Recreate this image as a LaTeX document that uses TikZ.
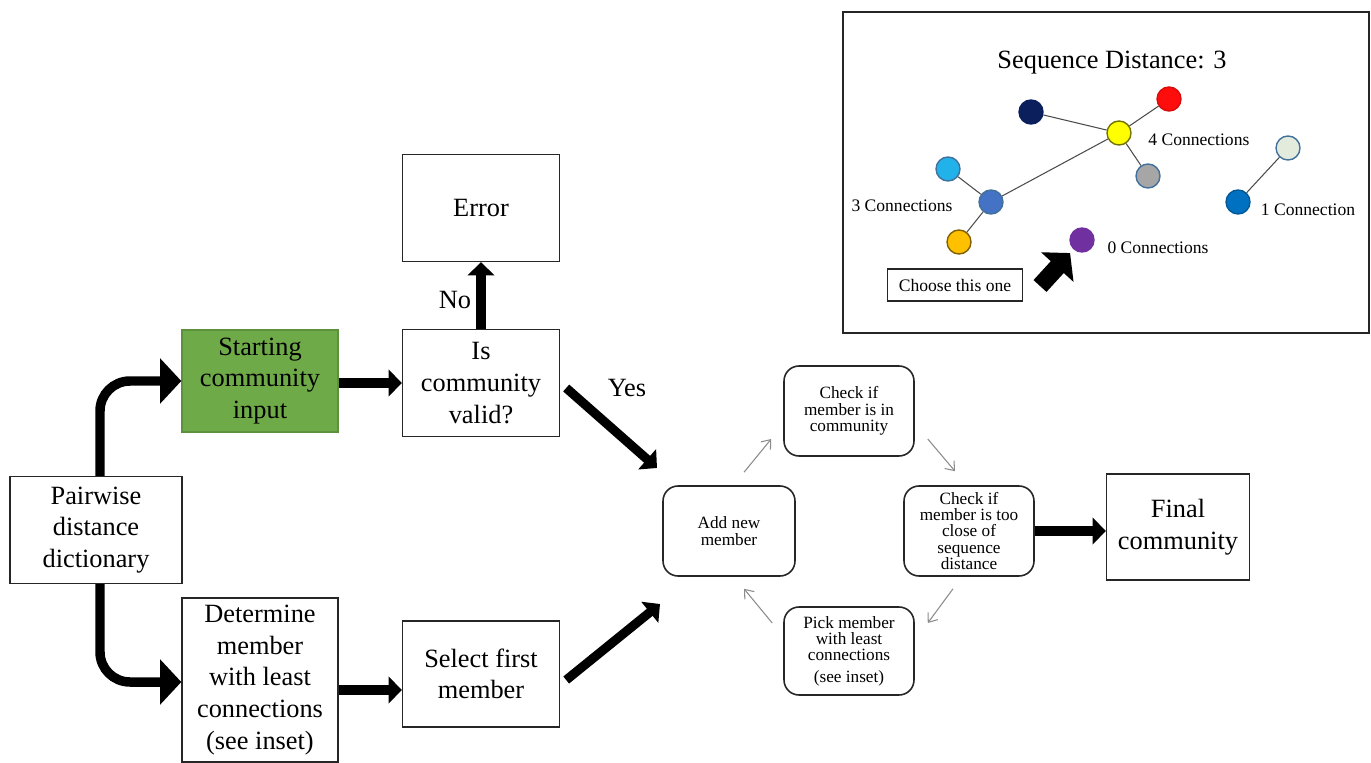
\documentclass[tikz,border=0pt]{standalone}
\usepackage{fontspec}
\setmainfont{Liberation Serif}
\usetikzlibrary{arrows.meta}
\definecolor{grn}{HTML}{6EAB48}
\definecolor{cnavy}{HTML}{0B1F5C}
\definecolor{cred}{HTML}{FF0D0D}
\definecolor{cyel}{HTML}{FFFF00}
\definecolor{cgray}{HTML}{A6A6A6}
\definecolor{ccyan}{HTML}{22B2EA}
\definecolor{cmid}{HTML}{4472C4}
\definecolor{corange}{HTML}{FFC000}
\definecolor{cpurple}{HTML}{7030A0}
\definecolor{cpale}{HTML}{E3EBDD}
\definecolor{cblue}{HTML}{0070C0}
\definecolor{rim}{HTML}{41719C}
\begin{document}
\begin{tikzpicture}[x=0.02cm,y=-0.02cm,
  box/.style={draw=black!85, line width=0.8pt, align=center, inner sep=0pt, font=\fontsize{15}{18}\selectfont},
  cyc/.style={draw=black!85, line width=0.9pt, rounded corners=0.3cm, align=center, inner sep=0pt, minimum width=2.6cm, minimum height=1.8cm, font=\fontsize{9.8}{9.3}\selectfont},
  bigarr/.style={line width=5.4pt, -{Triangle[length=12pt,width=25pt]}},
  smarr/.style={line width=5.2pt, -{Triangle[length=7.5pt,width=15pt]}},
  thinarr/.style={draw=black!45, line width=0.6pt, -{Straight Barb[length=4.5pt,width=7pt]}},
  lbl/.style={font=\fontsize{15}{18}\selectfont, inner sep=0pt},
  sl/.style={font=\fontsize{10}{12}\selectfont, inner sep=0pt},
  dot/.style={circle, minimum size=0.48cm, inner sep=0pt, line width=0.8pt},
  edge/.style={draw=black!70, line width=0.6pt}
]
\useasboundingbox[fill=white] (0,0) rectangle (1371,763);

% main flow boxes
\node[box, minimum width=3.44cm, minimum height=2.14cm] (pw) at (96,530) {Pairwise\\distance\\dictionary};
\node[box, fill=grn, draw=grn!85!black, minimum width=3.12cm, minimum height=2.04cm] (start) at (260,381) {Starting\\community\\input};
\node[box, minimum width=3.14cm, minimum height=2.14cm] (valid) at (481,383) {Is\\community\\valid?};
\node[box, minimum width=3.14cm, minimum height=2.14cm] (err) at (481,208) {Error};
\node[box, minimum width=3.12cm, minimum height=3.28cm] (det) at (260,680) {Determine\\member\\with least\\connections\\(see inset)};
\node[box, minimum width=3.14cm, minimum height=2.12cm] (sel) at (481,674) {Select first\\member};
\node[box, minimum width=2.86cm, minimum height=2.12cm] (fin) at (1178,527) {Final\\community};

% cycle
\node[cyc] (c1) at (849,411) {Check if\\member is in\\community};
\node[cyc, minimum width=2.64cm] (add) at (729,531) {Add new\\member};
\node[cyc] (c2) at (969,531) {Check if\\member is too\\close of\\sequence\\distance};
\node[cyc, minimum height=1.76cm] (pick) at (849,651) {Pick member\\with least\\connections\\[3pt](see inset)};

% thick arrows
\draw[bigarr, rounded corners=0.6cm] ([xshift=0.08cm]pw.north) |- (start.west);
\draw[bigarr, rounded corners=0.6cm] ([xshift=0.08cm]pw.south) |- ([yshift=-0.04cm]det.west);
\draw[smarr] ([yshift=-0.04cm]start.east) -- ([yshift=-0.04cm]start.east -| valid.west);
\draw[smarr] (valid.north) -- (err.south);
\draw[smarr] ([yshift=-0.2cm]det.east) -- ([yshift=-0.2cm]det.east -| sel.west);
\coordinate (yesend) at (657,468);
\coordinate (selend) at (660,604);
\draw[smarr] ([xshift=0.12cm,yshift=-0.1cm]valid.east) -- (yesend);
\draw[smarr] ([xshift=0.12cm,yshift=-0.12cm]sel.east) -- (selend);
\draw[smarr] (c2.east) -- (c2.east -| fin.west);

\node[lbl] (no) at (455,300) {No};
\node[lbl] (yes) at (627,388) {Yes};

% thin cycle arrows
\draw[thinarr] ([xshift=0.3cm,yshift=0.26cm]add.north) -- ([xshift=-0.24cm,yshift=-0.56cm]c1.west);
\draw[thinarr] ([xshift=0.26cm,yshift=-0.56cm]c1.east) -- ([xshift=-0.28cm,yshift=0.28cm]c2.north);
\draw[thinarr] ([xshift=-0.32cm,yshift=-0.24cm]c2.south) -- ([xshift=0.26cm,yshift=0.56cm]pick.east);
\draw[thinarr] ([xshift=-0.22cm,yshift=0.56cm]pick.west) -- ([xshift=0.3cm,yshift=-0.24cm]add.south);

% inset
\node[draw=black!85, line width=1.2pt, minimum width=10.52cm, minimum height=6.42cm, inner sep=0pt] (inset) at (1106,172.5) {};
\node[lbl] (title) at (1112,63) {Sequence Distance: 3};

\node[dot, fill=cnavy, draw=cnavy] (navy) at (1031,112) {};
\node[dot, fill=cred, draw=cred!85!black] (red) at (1169,99) {};
\node[dot, fill=cyel, draw=black!55!cyel] (yel) at (1119,133) {};
\node[dot, fill=cgray, draw=rim] (gry) at (1148,176) {};
\node[dot, fill=ccyan, draw=rim] (cya) at (948,169) {};
\node[dot, fill=cmid, draw=rim] (mid) at (991,202) {};
\node[dot, fill=corange, draw=black!50!corange] (ora) at (959,242) {};
\node[dot, fill=cpurple, draw=cpurple] (pur) at (1082,240) {};
\node[dot, fill=cpale, draw=rim] (pal) at (1288,148) {};
\node[dot, fill=cblue, draw=cblue!80!black] (blu) at (1238,202) {};

\draw[edge] (navy) -- (yel);
\draw[edge] (red) -- (yel);
\draw[edge] (yel) -- (gry);
\draw[edge] (yel) -- (mid);
\draw[edge] (cya) -- (mid);
\draw[edge] (mid) -- (ora);
\draw[edge] (pal) -- (blu);

\node[sl, anchor=west] (l4) at (1148,140) {4 Connections};
\node[sl] (l3) at (902,206) {3 Connections};
\node[sl] (l1) at (1308,210) {1 Connection};
\node[sl] (l0) at (1158,248) {0 Connections};

\node[draw=black!85, line width=0.9pt, minimum width=2.7cm, minimum height=0.64cm, inner sep=0pt, font=\fontsize{10}{12}\selectfont] (choose) at (955,285) {Choose this one};
\coordinate (bt) at (1040,286);
\draw[line width=10pt, -{Triangle[length=0.38cm,width=0.86cm]}, shorten >=0.1cm] (bt) -- (pur);
\end{tikzpicture}
\end{document}
